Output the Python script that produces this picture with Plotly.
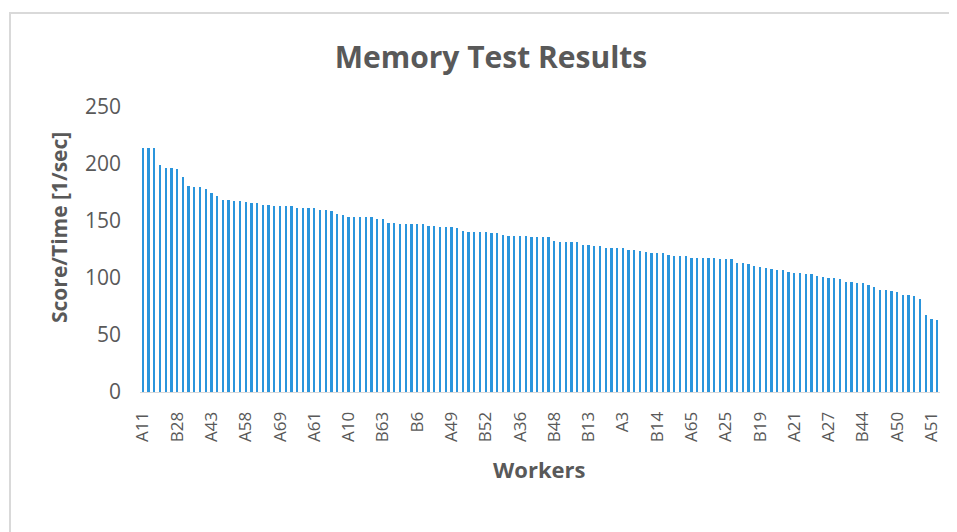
import plotly.graph_objects as go

# Scores (score/time, 1/sec) for 140 workers, sorted descending
scores = [
    213.7, 213.7, 213.7, 199.1, 196.8, 196.8, 195.3, 188.9, 181.0, 179.8,
    179.8, 178.4, 174.3, 171.9, 168.7, 168.7, 167.5, 167.5, 166.7, 165.5,
    165.5, 164.0, 164.0, 162.9, 162.9, 162.9, 162.9, 161.7, 161.7, 161.7,
    161.7, 159.4, 159.4, 158.5, 156.1, 155.0, 153.8, 153.8, 153.8, 153.8,
    153.8, 151.8, 151.5, 148.2, 148.2, 147.1, 147.1, 147.1, 147.1, 147.1,
    145.9, 145.9, 144.7, 144.7, 144.7, 143.6, 141.5, 140.4, 140.4, 140.4,
    140.4, 139.2, 139.2, 138.0, 137.1, 137.1, 137.1, 137.1, 136.0, 136.0,
    136.0, 136.0, 132.7, 131.6, 131.6, 131.6, 131.6, 129.2, 129.2, 128.1,
    128.1, 126.0, 126.0, 126.0, 126.0, 124.9, 124.9, 123.7, 122.5, 121.6,
    121.6, 121.6, 120.5, 119.0, 119.0, 119.0, 117.8, 117.8, 117.8, 117.8,
    117.8, 117.0, 117.0, 117.0, 113.5, 113.2, 112.3, 110.8, 109.9, 108.8,
    107.9, 106.7, 106.7, 105.6, 104.4, 104.4, 103.2, 103.2, 102.0, 100.9,
    100.0, 100.0, 98.8, 96.5, 96.5, 95.3, 95.3, 94.2, 92.1, 89.8,
    89.8, 88.6, 87.4, 85.4, 85.4, 84.2, 81.9, 67.3, 64.0, 62.9,
]

# Worker names visible on the axis (every 6th worker)
tick_labels = ["A11", "B28", "A43", "A58", "A69", "A61", "A10", "B63", "B6", "A49",
               "B52", "A36", "B48", "B13", "A3", "B14", "A65", "A25", "B19", "A21",
               "A27", "B44", "A50", "A51"]
label_step = 6

worker_idx = list(range(len(scores)))
tick_positions = worker_idx[::label_step][:len(tick_labels)]

GRAY = "#595959"
FONT = "Open Sans"

# page offset (default body margin of the html page)
OFF = 8
W, H = 957 - OFF, 532 - OFF
PL, PR, PT, PB = 140, 940, 107, 392   # plot area in page pixels


def px_to_paper_x(px):
    return (px - PL) / (PR - PL)


def px_to_paper_y(py):
    return (PB - py) / (PB - PT)


fig = go.Figure(go.Bar(
    x=worker_idx,
    y=scores,
    width=0.42,
    marker=dict(color="#2B95DC", line=dict(width=0)),
))

fig.update_layout(
    width=W, height=H,
    margin=dict(l=PL - OFF, r=957 - PR, t=PT - OFF, b=532 - PB),
    paper_bgcolor="white",
    plot_bgcolor="white",
    showlegend=False,
    font=dict(family=FONT, color=GRAY),
    title=dict(
        text="<b>Memory Test Results</b>",
        x=(491 - OFF) / W, xref="container", xanchor="center",
        y=1 - (57 - OFF) / H, yref="container", yanchor="middle",
        font=dict(family=FONT, size=30, color=GRAY),
    ),
    bargap=0,
)

fig.update_xaxes(
    range=[-0.5, len(scores) - 0.5],
    tickmode="array",
    tickvals=tick_positions,
    ticktext=tick_labels,
    tickangle=-90,
    tickfont=dict(family=FONT, size=17, color=GRAY),
    showgrid=False,
    zeroline=False,
    showline=True,
    linecolor="#d9d9d9",
    linewidth=1,
    ticks="",
    ticklabelstandoff=12,
)

fig.update_yaxes(
    range=[0, 250],
    tickmode="array",
    tickvals=[0, 50, 100, 150, 200, 250],
    tickfont=dict(family=FONT, size=21, color=GRAY),
    showgrid=False,
    zeroline=False,
    showline=False,
    ticks="",
    ticklabelstandoff=18,
)

# axis titles as annotations
fig.add_annotation(
    text="<b>Score/Time [1/sec]</b>", textangle=-90,
    xref="paper", yref="paper",
    x=px_to_paper_x(59), y=px_to_paper_y(228),
    xanchor="center", yanchor="middle", showarrow=False,
    font=dict(family=FONT, size=21, color=GRAY),
)
fig.add_annotation(
    text="<b>Workers</b>",
    xref="paper", yref="paper",
    x=px_to_paper_x(539), y=px_to_paper_y(469),
    xanchor="center", yanchor="middle", showarrow=False,
    font=dict(family=FONT, size=22, color=GRAY),
)

# chart-area border (cropped at right/bottom in the reference)
fig.add_shape(
    type="rect", xref="paper", yref="paper",
    x0=px_to_paper_x(10), x1=px_to_paper_x(970),
    y0=px_to_paper_y(545), y1=px_to_paper_y(13),
    line=dict(color="#d9d9d9", width=2), fillcolor="rgba(0,0,0,0)",
    layer="below",
)

fig.write_html("out.html")
